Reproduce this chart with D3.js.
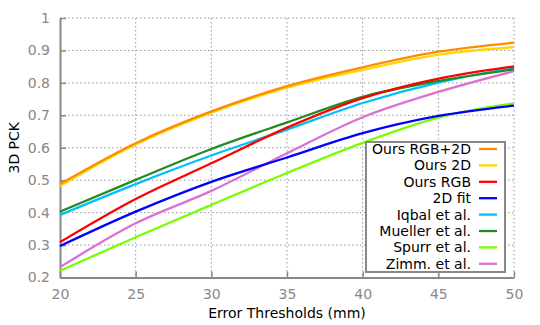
<!DOCTYPE html>
<html>
<head>
<meta charset="utf-8">
<script src="https://cdn.jsdelivr.net/npm/d3@7"></script>
<style>
  body { margin: 0; background: #fff; }
  text { font-family: "DejaVu Sans", sans-serif; }
</style>
</head>
<body>
<div id="chart"></div>
<script>
// 3D PCK curves vs error threshold

var thresholds = [20, 25, 30, 35, 40, 45, 50];

var seriesNames = ["Ours RGB+2D", "Ours 2D", "Ours RGB", "2D fit",
  "Iqbal et al.", "Mueller et al.", "Spurr et al.", "Zimm. et al."];

var oursRgb2d = [0.488, 0.614, 0.712, 0.790, 0.848, 0.896, 0.924];
var ours2d    = [0.482, 0.610, 0.708, 0.785, 0.840, 0.887, 0.910];
var oursRgb   = [0.309, 0.442, 0.552, 0.662, 0.753, 0.813, 0.851];
var fit2d     = [0.297, 0.403, 0.495, 0.570, 0.645, 0.698, 0.730];
var iqbal     = [0.393, 0.488, 0.576, 0.656, 0.738, 0.801, 0.846];
var mueller   = [0.403, 0.501, 0.596, 0.678, 0.757, 0.806, 0.842];
var spurr     = [0.221, 0.324, 0.424, 0.522, 0.615, 0.693, 0.737];
var zimm      = [0.232, 0.367, 0.467, 0.583, 0.694, 0.772, 0.836];

var yTicks = [0.2, 0.3, 0.4, 0.5, 0.6, 0.7, 0.8, 0.9, 1];
var xTicks = [20, 25, 30, 35, 40, 45, 50];

var colors = ["#ff8c00", "#ffd700", "#ff0000", "#0000ff",
  "#00bfff", "#228b22", "#7cfc00", "#da70d6"];

var allValues = [oursRgb2d, ours2d, oursRgb, fit2d, iqbal, mueller, spurr, zimm];

var width = 540,
    height = 325;
var plotLeft = 60, plotRight = 514, plotTop = 18, plotBottom = 277.5;

var svg = d3.select("#chart").append("svg")
    .attr("width", width)
    .attr("height", height);

var x = d3.scaleLinear().domain([20, 50]).range([plotLeft, plotRight]);
var y = d3.scaleLinear().domain([0.2, 1]).range([plotBottom, plotTop]);

// dotted grid
svg.selectAll(".hgrid")
  .data(yTicks.slice(1))
  .enter().append("line")
  .attr("x1", plotLeft).attr("x2", plotRight)
  .attr("y1", function(d) { return y(d); })
  .attr("y2", function(d) { return y(d); })
  .style("stroke", "#999")
  .style("stroke-width", 1)
  .style("stroke-dasharray", "1.5,2.5");

svg.selectAll(".vgrid")
  .data(xTicks.slice(1))
  .enter().append("line")
  .attr("y1", plotTop).attr("y2", plotBottom)
  .attr("x1", function(d) { return x(d); })
  .attr("x2", function(d) { return x(d); })
  .style("stroke", "#999")
  .style("stroke-width", 1)
  .style("stroke-dasharray", "1.5,2.5");

// axes
var yAxis = d3.axisLeft(y).tickValues(yTicks)
  .tickFormat(function(d) { return d === 1 ? "1" : d3.format(".1f")(d); })
  .tickSizeInner(-6).tickSizeOuter(0).tickPadding(10);
var xAxis = d3.axisBottom(x).tickValues(xTicks)
  .tickSizeInner(-6).tickSizeOuter(0).tickPadding(12);

var gy = svg.append("g").attr("transform", "translate(" + plotLeft + ",0)").call(yAxis);
var gx = svg.append("g").attr("transform", "translate(0," + plotBottom + ")").call(xAxis);

[gx, gy].forEach(function(g) {
  g.select(".domain").style("stroke", "#888").style("stroke-width", 2);
  g.selectAll(".tick line").style("stroke", "#888").style("stroke-width", 1.5);
  g.selectAll(".tick text")
    .style("fill", "#888")
    .style("font-size", "14px")
    .style("font-family", "DejaVu Sans, sans-serif");
});

// lines
var line = d3.line()
  .x(function(d, i) { return x(thresholds[i]); })
  .y(function(d) { return y(d); })
  .curve(d3.curveMonotoneX);

var order = [6, 7, 3, 4, 5, 2, 1, 0];
order.forEach(function(k) {
  svg.append("path")
    .datum(allValues[k])
    .attr("d", line)
    .attr("fill", "none")
    .style("stroke", colors[k])
    .style("stroke-width", 2.3);
});

// axis titles
svg.append("text")
  .attr("x", (plotLeft + plotRight) / 2)
  .attr("y", 318)
  .attr("text-anchor", "middle")
  .style("font-size", "14px")
  .text("Error Thresholds (mm)");

svg.append("text")
  .attr("transform", "translate(19," + ((plotTop + plotBottom) / 2) + ") rotate(-90)")
  .attr("text-anchor", "middle")
  .style("font-size", "14px")
  .text("3D PCK");

// legend
var legend = svg.append("g");
legend.append("rect")
  .attr("x", 366).attr("y", 142)
  .attr("width", 139).attr("height", 130)
  .attr("fill", "#fff")
  .style("stroke", "#888")
  .style("stroke-width", 2);

var items = legend.selectAll(".item")
  .data(seriesNames)
  .enter().append("g")
  .attr("transform", function(d, i) { return "translate(0," + (149 + i * 16.4) + ")"; });

items.append("text")
  .attr("x", 471)
  .attr("y", 5)
  .attr("text-anchor", "end")
  .style("font-size", "14px")
  .text(function(d) { return d; });

items.append("line")
  .attr("x1", 479).attr("x2", 497)
  .attr("y1", 0).attr("y2", 0)
  .style("stroke", function(d, i) { return colors[i]; })
  .style("stroke-width", 2.3);
</script>
</body>
</html>
